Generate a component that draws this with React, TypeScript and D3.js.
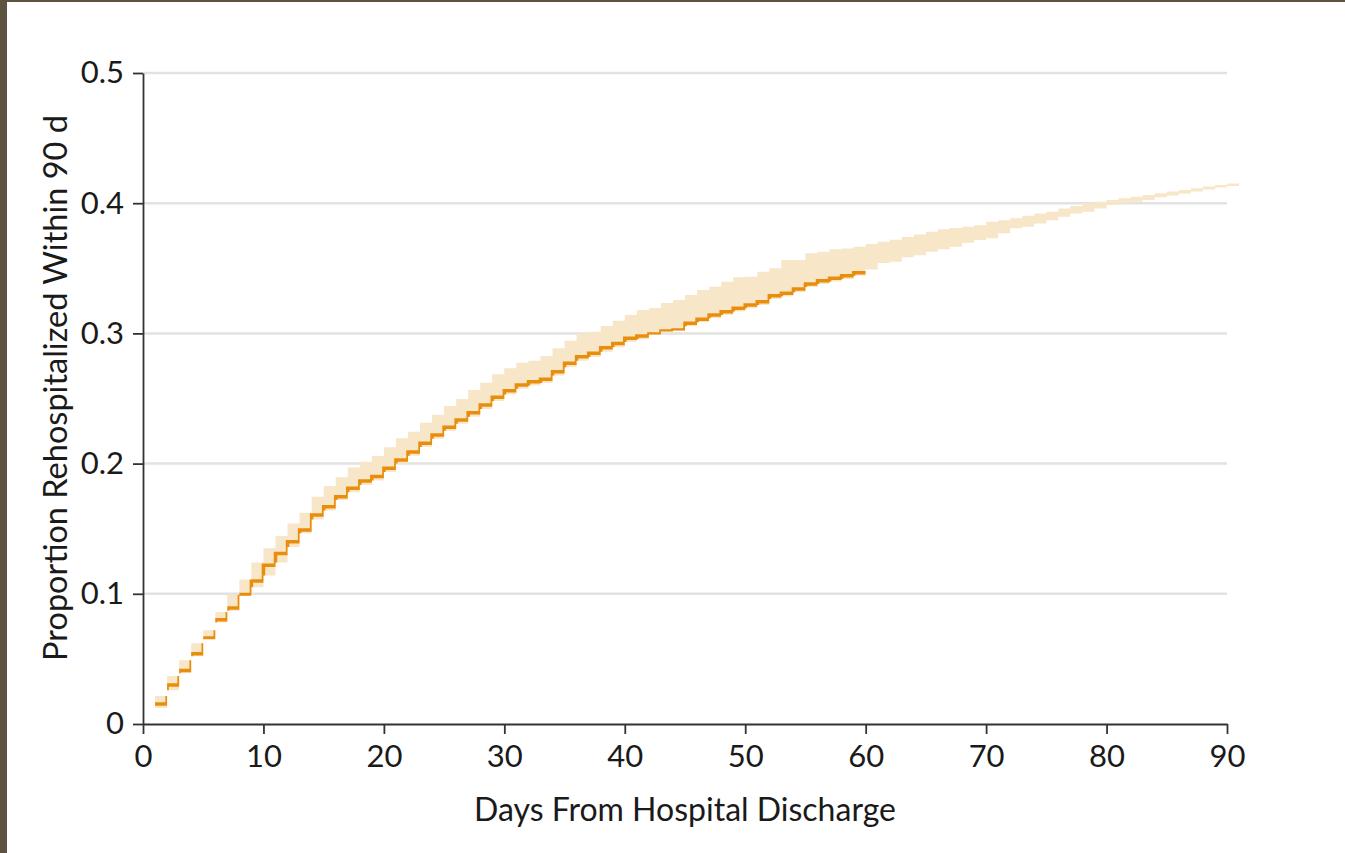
import { useEffect, useRef } from "react";
import * as d3 from "d3";

// days of follow-up (step starts)
const lineDays = d3.range(1, 61);
const bandDays = d3.range(1, 92);

// estimated proportion rehospitalized, days 1..59 (step held to day 60)
const estimate = [
  0.0154, 0.03, 0.041, 0.054, 0.066, 0.08, 0.089, 0.0995, 0.1098, 0.122,
  0.131, 0.14, 0.149, 0.1605, 0.1669, 0.1746, 0.181, 0.1866, 0.19, 0.1964,
  0.2028, 0.209, 0.2156, 0.222, 0.228, 0.2335, 0.2391, 0.245, 0.2509, 0.256,
  0.2604, 0.2629, 0.2647, 0.2706, 0.277, 0.2821, 0.2847, 0.289, 0.2922, 0.2962,
  0.298, 0.2995, 0.3018, 0.3026, 0.3078, 0.3108, 0.3141, 0.3167, 0.3193, 0.3218,
  0.3244, 0.329, 0.3308, 0.3341, 0.338, 0.3405, 0.3423, 0.3443, 0.3466,
];

// confidence band, days 1..90 (step held to day 91)
const upper = [
  0.0215, 0.0369, 0.049, 0.062, 0.072, 0.086, 0.099, 0.111, 0.124, 0.135,
  0.1444, 0.154, 0.1623, 0.1746, 0.1828, 0.1895, 0.197, 0.2015, 0.2058, 0.2125,
  0.2194, 0.2245, 0.2314, 0.2376, 0.2442, 0.2496, 0.2565, 0.2621, 0.2686, 0.2732,
  0.2775, 0.279, 0.2826, 0.2886, 0.2944, 0.3, 0.3013, 0.3057, 0.3097, 0.3141,
  0.318, 0.3195, 0.3233, 0.3257, 0.3295, 0.3333, 0.3359, 0.3397, 0.3431, 0.3436,
  0.3474, 0.35, 0.3564, 0.3564, 0.3615, 0.3628, 0.3646, 0.3653, 0.3666, 0.3687,
  0.3704, 0.372, 0.374, 0.376, 0.378, 0.38, 0.381, 0.382, 0.383, 0.3858,
  0.387, 0.3884, 0.3904, 0.392, 0.3935, 0.396, 0.3978, 0.4, 0.4012, 0.4025,
  0.4038, 0.405, 0.4063, 0.4076, 0.409, 0.4102, 0.4115, 0.4128, 0.414, 0.4152,
];
const lower = [
  0.0123, 0.026, 0.039, 0.052, 0.065, 0.078, 0.087, 0.0985, 0.105, 0.114,
  0.124, 0.136, 0.1465, 0.157, 0.164, 0.172, 0.178, 0.1836, 0.187, 0.1935,
  0.2, 0.206, 0.2128, 0.219, 0.2252, 0.2306, 0.236, 0.242, 0.248, 0.253,
  0.2575, 0.26, 0.262, 0.2676, 0.274, 0.279, 0.2818, 0.286, 0.2894, 0.2934,
  0.2955, 0.2992, 0.3015, 0.3022, 0.3055, 0.3085, 0.3116, 0.3142, 0.3168, 0.3193,
  0.3219, 0.3265, 0.3285, 0.3316, 0.3356, 0.338, 0.3398, 0.3418, 0.3442, 0.349,
  0.354, 0.355, 0.3585, 0.36, 0.3628, 0.3646, 0.3666, 0.3697, 0.3717, 0.373,
  0.3769, 0.3807, 0.382, 0.3845, 0.387, 0.3896, 0.392, 0.3935, 0.396, 0.3986,
  0.4, 0.4012, 0.4025, 0.4045, 0.406, 0.4075, 0.409, 0.4105, 0.412, 0.4132,
];

const xTicks = [0, 10, 20, 30, 40, 50, 60, 70, 80, 90];
const yTicks = [0, 0.1, 0.2, 0.3, 0.4, 0.5];

const FONT = "Lato, 'Open Sans', sans-serif";

const App = () => {
  const svgRef = useRef<SVGSVGElement | null>(null);

  useEffect(() => {
    document.body.style.margin = "0";
    const svg = d3.select(svgRef.current);
    svg.selectAll("*").remove();

    const width = 1345;
    const height = 853;
    svg.attr("width", width).attr("height", height);

    // frame strips from the page the figure sits on
    svg.append("rect").attr("x", 0).attr("y", 0).attr("width", width).attr("height", 2).attr("fill", "#5e5340");
    svg.append("rect").attr("x", 0).attr("y", 0).attr("width", 7).attr("height", height).attr("fill", "#5e5340");

    const xScale = d3.scaleLinear().domain([0, 90]).range([143, 1227]);
    const yScale = d3.scaleLinear().domain([0, 0.5]).range([724, 73]);

    // gridlines
    svg
      .append("g")
      .selectAll("line")
      .data(yTicks.filter((t) => t > 0))
      .enter()
      .append("line")
      .attr("x1", xScale(0))
      .attr("x2", xScale(90))
      .attr("y1", (d) => yScale(d))
      .attr("y2", (d) => yScale(d))
      .attr("stroke", "#e2e2e2")
      .attr("stroke-width", 2.5);

    const bandData = bandDays.map((d, i) => ({
      day: d,
      lo: lower[Math.min(i, lower.length - 1)],
      hi: upper[Math.min(i, upper.length - 1)],
    }));
    const lineData = lineDays.map((d, i) => ({
      day: d,
      v: estimate[Math.min(i, estimate.length - 1)],
    }));

    const area = d3
      .area<{ day: number; lo: number; hi: number }>()
      .x((d) => xScale(d.day))
      .y0((d) => yScale(d.lo))
      .y1((d) => yScale(d.hi))
      .curve(d3.curveStepAfter);

    svg
      .append("defs")
      .append("clipPath")
      .attr("id", "band-clip")
      .append("path")
      .attr("d", area(bandData) as string);

    svg
      .append("path")
      .attr("d", area(bandData) as string)
      .attr("fill", "#f8e6c9");

    const line = d3
      .line<{ day: number; v: number }>()
      .x((d) => xScale(d.day))
      .y((d) => yScale(d.v))
      .curve(d3.curveStepAfter);

    svg
      .append("path")
      .datum(lineData)
      .attr("d", line)
      .attr("fill", "none")
      .attr("stroke", "#e88e0c")
      .attr("stroke-width", 3.5)
      .attr("clip-path", "url(#band-clip)");

    // axes
    const xAxis = svg
      .append("g")
      .attr("transform", `translate(0,${yScale(0)})`)
      .call(
        d3
          .axisBottom(xScale)
          .tickValues(xTicks)
          .tickSize(10)
          .tickSizeOuter(0)
          .tickPadding(11)
          .tickFormat(d3.format("d"))
      );
    const yAxis = svg
      .append("g")
      .attr("transform", `translate(${xScale(0)},0)`)
      .call(
        d3
          .axisLeft(yScale)
          .tickValues(yTicks)
          .tickSize(10)
          .tickSizeOuter(0)
          .tickPadding(9)
          .tickFormat((d) => (+d === 0 ? "0" : d3.format(".1f")(+d)))
      );

    [xAxis, yAxis].forEach((ax) => {
      ax.select(".domain").attr("stroke", "#333").attr("stroke-width", 1.8);
      ax.selectAll(".tick line").attr("stroke", "#333").attr("stroke-width", 1.8);
      ax.selectAll(".tick text")
        .attr("fill", "#1a1a1a")
        .style("font-family", FONT)
        .style("font-size", "31px");
    });

    svg
      .append("text")
      .attr("x", (xScale(0) + xScale(90)) / 2)
      .attr("y", 821)
      .attr("text-anchor", "middle")
      .attr("fill", "#1a1a1a")
      .style("font-family", FONT)
      .style("font-size", "32px")
      .text("Days From Hospital Discharge");

    svg
      .append("text")
      .attr("transform", `translate(67,${388}) rotate(-90)`)
      .attr("text-anchor", "middle")
      .attr("fill", "#1a1a1a")
      .style("font-family", FONT)
      .style("font-size", "32.5px")
      .text("Proportion Rehospitalized Within 90 d");
  }, []);

  return <svg ref={svgRef} style={{ display: "block" }} />;
};

export default App;
